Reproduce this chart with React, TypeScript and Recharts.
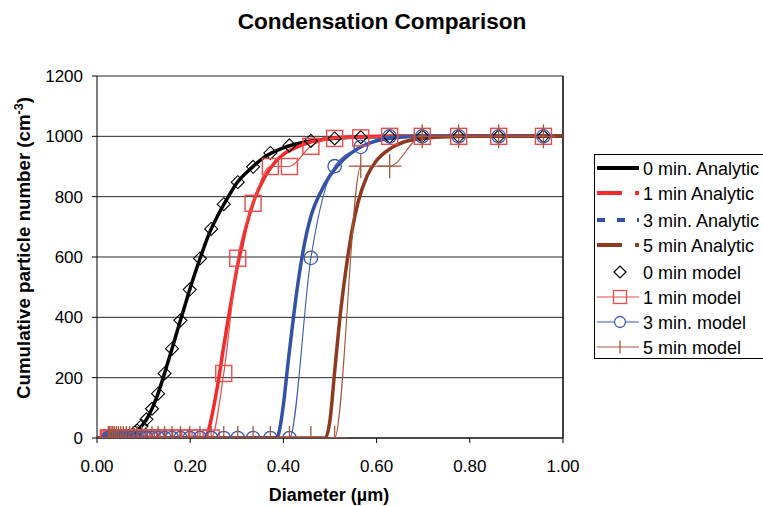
import React from 'react';
import { ComposedChart, Line, XAxis, YAxis, CartesianGrid, ReferenceLine } from 'recharts';

const W = 763;
const H = 506;

// Shared diameter bins of the model output (µm)
const modelDiameters = [
  0.0245, 0.0272, 0.0302, 0.0335, 0.0372, 0.0413, 0.0459, 0.051, 0.0565, 0.063,
  0.07, 0.0776, 0.086, 0.0956, 0.106, 0.118, 0.131, 0.145, 0.161, 0.179,
  0.199, 0.221, 0.245, 0.272, 0.302, 0.335, 0.372, 0.413, 0.459, 0.51,
  0.566, 0.628, 0.698, 0.776, 0.862, 0.958,
];
const model0 = [
  0, 0, 0, 0, 0, 0, 0, 0, 0, 0,
  5, 12, 25, 40, 62, 97, 147, 214, 296, 390,
  492, 595, 693, 775, 848, 899, 945, 970, 985, 993,
  997, 999, 1000, 1000, 1000, 1000,
];
const model1 = [
  0, 0, 0, 0, 0, 0, 0, 0, 0, 0,
  0, 0, 0, 0, 0, 0, 0, 0, 0, 0,
  0, 0, 0, 214, 596, 778, 900, 900, 967, 993,
  995, 1000, 1000, 1000, 1000, 1000,
];
const model3 = [
  0, 0, 0, 0, 0, 0, 0, 0, 0, 0,
  0, 0, 0, 0, 0, 0, 0, 0, 0, 0,
  0, 0, 0, 0, 0, 0, 0, 0, 597, 901,
  965, 1000, 1000, 1000, 1000, 1000,
];
const model5 = [
  0, 0, 0, 0, 0, 0, 0, 0, 0, 0,
  0, 0, 0, 0, 0, 0, 0, 0, 0, 0,
  0, 0, 0, 0, 0, 0, 0, 0, 0, 0,
  901, 901, 1000, 1000, 1000, 1000,
];

// Analytic solutions
const analytic0X = [0, 0.06, 0.07, 0.08, 0.09, 0.1, 0.11, 0.12, 0.13, 0.14, 0.15, 0.16, 0.17, 0.18, 0.19, 0.2, 0.22, 0.24, 0.26, 0.28, 0.3, 0.33, 0.36, 0.4, 0.45, 0.5, 0.55, 0.6, 0.65, 1.0];
const analytic0Y = [0, 0, 5, 14, 30, 48, 72, 104, 143, 190, 240, 291, 343, 395, 446, 497, 590, 675, 740, 795, 845, 893, 932, 962, 982, 992, 997, 999, 1000, 1000];

const analytic1X = [0, 0.23, 0.24, 0.25, 0.26, 0.27, 0.28, 0.29, 0.3, 0.31, 0.32, 0.34, 0.36, 0.38, 0.4, 0.43, 0.46, 0.5, 0.55, 0.6, 1.0];
const analytic1Y = [0, 0, 30, 100, 185, 285, 380, 470, 560, 630, 700, 800, 865, 910, 940, 965, 982, 993, 998, 1000, 1000];

const analytic3X = [0, 0.385, 0.39, 0.4, 0.41, 0.42, 0.43, 0.44, 0.45, 0.46, 0.48, 0.5, 0.53, 0.56, 0.6, 0.65, 0.7, 1.0];
const analytic3Y = [0, 0, 15, 110, 250, 380, 500, 600, 680, 740, 815, 870, 925, 960, 985, 997, 1000, 1000];

const analytic5X = [0, 0.49, 0.5, 0.51, 0.52, 0.53, 0.54, 0.55, 0.56, 0.58, 0.6, 0.63, 0.66, 0.7, 0.75, 0.8, 1.0];
const analytic5Y = [0, 0, 60, 220, 380, 510, 620, 710, 780, 870, 920, 960, 982, 993, 999, 1000, 1000];

const xTicks = [0, 0.2, 0.4, 0.6, 0.8, 1.0];
const yTicks = [0, 200, 400, 600, 800, 1000, 1200];

const legendLabels = [
  '0 min. Analytic',
  '1 min Analytic',
  '3 min. Analytic',
  '5 min Analytic',
  '0 min model',
  '1 min model',
  '3 min. model',
  '5 min model',
];

const C_BLACK = '#000000';
const C_RED = '#f22a2a';
const C_BLUE = '#3351a6';
const C_BROWN = '#8e3a1f';
const C_RED_M = '#ef4a4a';
const C_BLUE_M = '#3b5bb3';
const C_BROWN_M = '#a6543a';

const zip = (xs: number[], ys: number[]) => xs.map((x, i) => ({ x, y: ys[i] }));

const a0 = zip(analytic0X, analytic0Y);
const a1 = zip(analytic1X, analytic1Y);
const a3 = zip(analytic3X, analytic3Y);
const a5 = zip(analytic5X, analytic5Y);
const m0 = zip(modelDiameters, model0);
const m1 = zip(modelDiameters, model1);
const m3 = zip(modelDiameters, model3);
const m5 = zip(modelDiameters, model5);

const diamond = (p: any) => {
  const { cx, cy, index } = p;
  const r = 6.5;
  return (
    <path
      key={'dia' + index}
      d={`M${cx},${cy - r}L${cx + r},${cy}L${cx},${cy + r}L${cx - r},${cy}Z`}
      fill="none"
      stroke={C_BLACK}
      strokeWidth={1.1}
    />
  );
};
const square = (p: any) => {
  const { cx, cy, index } = p;
  const s = 16;
  return (
    <rect key={'sq' + index} x={cx - s / 2} y={cy - s / 2} width={s} height={s} fill="none" stroke={C_RED_M} strokeWidth={1.4} />
  );
};
const circle = (p: any) => {
  const { cx, cy, index } = p;
  return <circle key={'ci' + index} cx={cx} cy={cy} r={6.7} fill="none" stroke={C_BLUE_M} strokeWidth={1.3} />;
};
const plus = (p: any) => {
  const { cx, cy, index } = p;
  const r = 12;
  return (
    <path key={'pl' + index} d={`M${cx - r},${cy}H${cx + r}M${cx},${cy - r}V${cy + r}`} stroke={C_BROWN_M} strokeWidth={1.3} fill="none" />
  );
};

const FONT = '"Liberation Sans", Arial, Helvetica, sans-serif';

function LegendBox() {
  const x0 = 594;
  const ys = [168, 193, 220, 245, 272, 297, 322, 347];
  const lx1 = 597;
  const lx2 = 639;
  const mx = 620;
  const tx = 643;
  return (
    <g>
      <rect x={x0 + 0.5} y={154.5} width={200} height={204} fill="#fff" stroke="#000" strokeWidth={1} />
      {/* 0 min analytic */}
      <line x1={lx1} x2={lx2} y1={ys[0]} y2={ys[0]} stroke={C_BLACK} strokeWidth={4} />
      {/* 1 min analytic */}
      <line x1={lx1} x2={622} y1={ys[1]} y2={ys[1]} stroke={C_RED} strokeWidth={4} />
      <line x1={635} x2={639} y1={ys[1]} y2={ys[1]} stroke={C_RED} strokeWidth={4} />
      {/* 3 min analytic */}
      <line x1={lx1} x2={605} y1={ys[2]} y2={ys[2]} stroke={C_BLUE} strokeWidth={4} />
      <line x1={617} x2={625} y1={ys[2]} y2={ys[2]} stroke={C_BLUE} strokeWidth={4} />
      <line x1={637} x2={639} y1={ys[2]} y2={ys[2]} stroke={C_BLUE} strokeWidth={4} />
      {/* 5 min analytic */}
      <line x1={lx1} x2={622} y1={ys[3]} y2={ys[3]} stroke={C_BROWN} strokeWidth={4} />
      <line x1={635} x2={639} y1={ys[3]} y2={ys[3]} stroke={C_BROWN} strokeWidth={4} />
      {/* 0 min model */}
      <path d={`M${mx},${ys[4] - 6}L${mx + 6},${ys[4]}L${mx},${ys[4] + 6}L${mx - 6},${ys[4]}Z`} fill="none" stroke={C_BLACK} strokeWidth={1.2} />
      {/* 1 min model */}
      <line x1={lx1} x2={lx2} y1={ys[5]} y2={ys[5]} stroke={C_RED_M} strokeWidth={1.2} />
      <rect x={mx - 6.5} y={ys[5] - 6.5} width={13} height={13} fill="none" stroke={C_RED_M} strokeWidth={1.3} />
      {/* 3 min model */}
      <line x1={lx1} x2={lx2} y1={ys[6]} y2={ys[6]} stroke={C_BLUE_M} strokeWidth={1.2} />
      <circle cx={mx} cy={ys[6]} r={5.5} fill="#fff" stroke={C_BLUE_M} strokeWidth={1.3} />
      {/* 5 min model */}
      <line x1={lx1} x2={lx2} y1={ys[7]} y2={ys[7]} stroke={C_BROWN_M} strokeWidth={1.2} />
      <line x1={mx} x2={mx} y1={ys[7] - 6.5} y2={ys[7] + 6.5} stroke={C_BROWN_M} strokeWidth={1.3} />
      {legendLabels.map((t, i) => (
        <text key={t} x={tx} y={ys[i] + 6.5} fontSize={18} fill="#000" fontFamily={FONT}>
          {t}
        </text>
      ))}
    </g>
  );
}

export default function App() {
  return (
    <div style={{ position: 'absolute', left: 0, top: 0, width: W, height: H, background: '#fff', fontFamily: FONT }}>
      <ComposedChart width={W} height={H} margin={{ top: 76, right: 200, bottom: 38, left: 0 }}>
        <CartesianGrid horizontal vertical={false} stroke="#000" strokeWidth={1} strokeOpacity={0.85} />
        <XAxis
          type="number"
          dataKey="x"
          domain={[0, 1]}
          ticks={xTicks}
          allowDataOverflow
          tickFormatter={(v: number) => v.toFixed(2)}
          height={30}
          tickSize={5}
          tickMargin={17}
          stroke="#000"
          tick={{ fill: '#000', fontSize: 17, fontFamily: FONT }}
        />
        <YAxis
          type="number"
          dataKey="y"
          domain={[0, 1200]}
          ticks={yTicks}
          allowDataOverflow
          width={97}
          tickSize={5}
          tickMargin={9}
          stroke="#000"
          tick={{ fill: '#000', fontSize: 17, fontFamily: FONT }}
        />
        <ReferenceLine x={1} stroke="#000" strokeWidth={1.5} />
        <Line data={a0} dataKey="y" type="monotone" stroke={C_BLACK} strokeWidth={3.5} dot={false} activeDot={false} isAnimationActive={false} />
        <Line data={a1} dataKey="y" type="monotone" stroke={C_RED} strokeWidth={3.5} dot={false} activeDot={false} isAnimationActive={false} />
        <Line data={a3} dataKey="y" type="monotone" stroke={C_BLUE} strokeWidth={3.5} dot={false} activeDot={false} isAnimationActive={false} />
        <Line data={a5} dataKey="y" type="monotone" stroke={C_BROWN} strokeWidth={3.5} dot={false} activeDot={false} isAnimationActive={false} />
        <Line data={m0} dataKey="y" type="monotone" stroke="none" strokeWidth={0} dot={diamond} activeDot={false} isAnimationActive={false} />
        <Line data={m1} dataKey="y" type="monotone" stroke={C_RED_M} strokeWidth={1.2} dot={square} activeDot={false} isAnimationActive={false} />
        <Line data={m3} dataKey="y" type="monotone" stroke={C_BLUE_M} strokeWidth={1.1} dot={circle} activeDot={false} isAnimationActive={false} />
        <Line data={m5} dataKey="y" type="monotone" stroke={C_BROWN_M} strokeWidth={1.1} dot={plus} activeDot={false} isAnimationActive={false} />
      </ComposedChart>
      <svg width={W} height={H} style={{ position: 'absolute', left: 0, top: 0, pointerEvents: 'none' }}>
        <text x={382} y={29} textAnchor="middle" fontSize={22.6} fontWeight="bold" fill="#000" fontFamily={FONT}>
          Condensation Comparison
        </text>
        <text x={329} y={501} textAnchor="middle" fontSize={18} fontWeight="bold" fill="#000" fontFamily={FONT}>
          Diameter (µm)
        </text>
        <text transform="translate(30,248) rotate(-90)" textAnchor="middle" fontSize={18.7} fontWeight="bold" fill="#000" fontFamily={FONT}>
          Cumulative particle number (cm
          <tspan fontSize={12.5} dy={-7}>-3</tspan>
          <tspan dy={7}>)</tspan>
        </text>
        <LegendBox />
      </svg>
    </div>
  );
}
